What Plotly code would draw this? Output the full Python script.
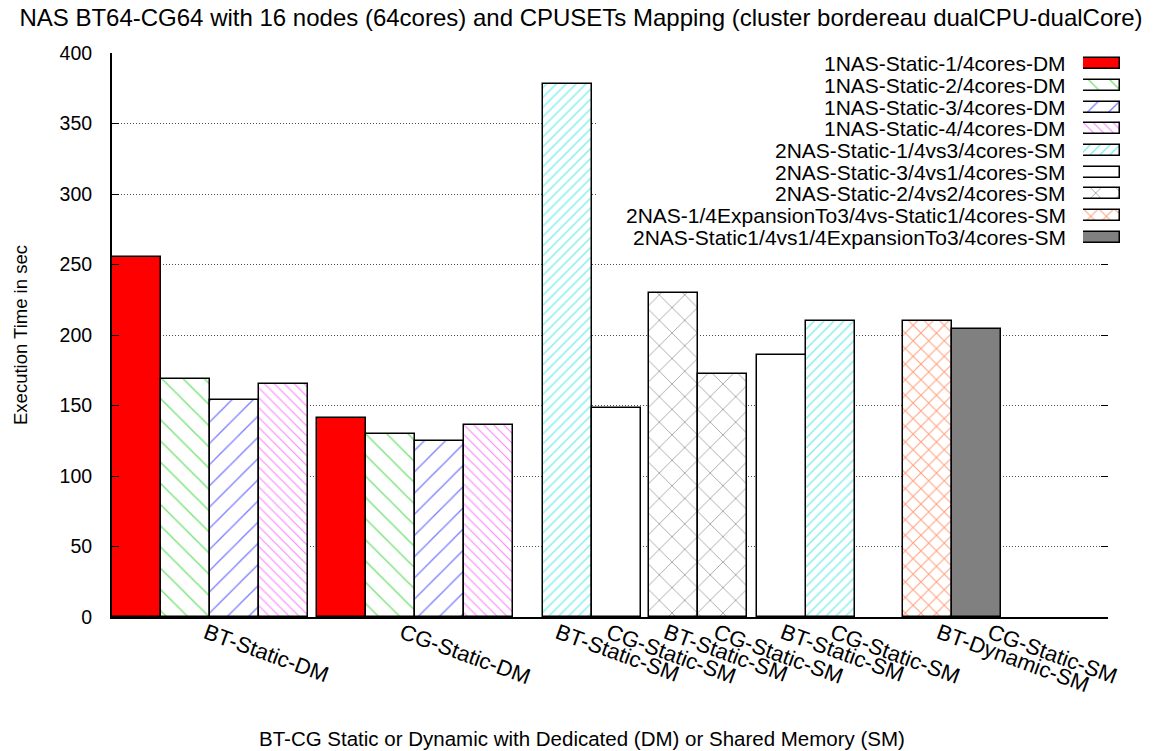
import plotly.graph_objects as go

# ---- data -------------------------------------------------------------
series_names = [
    "1NAS-Static-1/4cores-DM",
    "1NAS-Static-2/4cores-DM",
    "1NAS-Static-3/4cores-DM",
    "1NAS-Static-4/4cores-DM",
    "2NAS-Static-1/4vs3/4cores-SM",
    "2NAS-Static-3/4vs1/4cores-SM",
    "2NAS-Static-2/4vs2/4cores-SM",
    "2NAS-1/4ExpansionTo3/4vs-Static1/4cores-SM",
    "2NAS-Static1/4vs1/4ExpansionTo3/4cores-SM",
]

# dedicated-memory runs: one cluster per benchmark, one bar per mapping
dm_labels = ["BT-Static-DM", "CG-Static-DM"]
static1_dm = [255, 141]
static2_dm = [169, 130]
static3_dm = [154, 125]
static4_dm = [165, 136]

# shared-memory runs: one bar per benchmark, tagged with its series
sm_labels = ["BT-Static-SM", "CG-Static-SM", "BT-Static-SM", "CG-Static-SM",
             "BT-Static-SM", "CG-Static-SM", "BT-Dynamic-SM", "CG-Static-SM"]
sm_series = [4, 5, 6, 6, 5, 4, 7, 8]
sm_values = [378, 148, 230, 172, 186, 210, 210, 204]

y_ticks = [0, 50, 100, 150, 200, 250, 300, 350, 400]

# ---- layout constants (x in bar-width units) -------------------------
BAR_W = 1.0
DM_CENTERS = [2.0, 6.18]
SM_BAR_X = [9.30, 10.30, 11.46, 12.46, 13.66, 14.66, 16.64, 17.64]
DM_TICK_X = [1.92, 5.92]
SM_TICK_X = [9.10, 10.14, 11.31, 12.33, 13.69, 14.71, 16.88, 17.92]
X_MAX = 20.33

FONT = "Liberation Sans"

styles = [
    dict(color="#ff0000"),
    dict(color="white", pattern=dict(shape="\\", fgcolor="#00cc00", size=15, solidity=0.10)),
    dict(color="white", pattern=dict(shape="/", fgcolor="#0000ff", size=15, solidity=0.09)),
    dict(color="white", pattern=dict(shape="\\", fgcolor="#ff00ff", size=7, solidity=0.15)),
    dict(color="white", pattern=dict(shape="/", fgcolor="#00dddd", size=7, solidity=0.20)),
    dict(color="white"),
    dict(color="white", pattern=dict(shape="x", fgcolor="#000000", size=18, solidity=0.07)),
    dict(color="white", pattern=dict(shape="x", fgcolor="#ff4400", size=11, solidity=0.18)),
    dict(color="#808080"),
]
OUTLINE = dict(color="black", width=1.5)

fig = go.Figure()

dm_cols = [static1_dm, static2_dm, static3_dm, static4_dm]
n_dm = len(dm_cols)
for s, vals in enumerate(dm_cols):
    xs = [c + (s - (n_dm - 1) / 2) * BAR_W for c in DM_CENTERS]
    fig.add_trace(go.Bar(
        x=xs, y=vals, width=BAR_W, name=series_names[s], showlegend=False,
        marker=dict(**styles[s], line=OUTLINE), hovertext=dm_labels,
        xaxis="x", yaxis="y"))

for s in sorted(set(sm_series)):
    idx = [i for i, k in enumerate(sm_series) if k == s]
    fig.add_trace(go.Bar(
        x=[SM_BAR_X[i] for i in idx], y=[sm_values[i] for i in idx],
        width=BAR_W, name=series_names[s], showlegend=False,
        marker=dict(**styles[s], line=OUTLINE),
        hovertext=[sm_labels[i] for i in idx], xaxis="x", yaxis="y"))

# key samples drawn as short horizontal bars in their own small axes
for s, name in enumerate(series_names):
    fig.add_trace(go.Bar(
        x=[1], y=[s], base=0, orientation="h", width=0.5, showlegend=False,
        marker=dict(**styles[s], line=OUTLINE), name=name, hoverinfo="name",
        xaxis="x3", yaxis="y3"))

L, R, T, B = 112, 25, 53, 134
W, H = 1155, 751
pw = W - L - R
ph = H - T - B


def px_x(p):
    return (p - L) / pw


def px_y(p):
    return (H - B - p) / ph


annotations = []
for s, name in enumerate(series_names):
    annotations.append(dict(
        text=name, x=px_x(1068), xref="paper", y=s, yref="y3",
        xanchor="right", yanchor="middle", showarrow=False,
        font=dict(family=FONT, size=21, color="black")))

annotations.append(dict(
    text="Execution Time in sec", x=px_x(20), xref="paper", y=0.5, yref="paper",
    textangle=-90, showarrow=False, xanchor="center", yanchor="middle",
    font=dict(family=FONT, size=18.5, color="black")))
annotations.append(dict(
    text="BT-CG Static or Dynamic with Dedicated (DM) or Shared Memory (SM)",
    x=px_x(582), xref="paper", y=px_y(738), yref="paper", showarrow=False,
    xanchor="center", yanchor="middle",
    font=dict(family=FONT, size=20.5, color="black")))

fig.update_layout(
    width=W, height=H,
    margin=dict(l=L, r=R, t=T, b=B),
    paper_bgcolor="white", plot_bgcolor="white",
    barmode="overlay", bargap=0,
    title=dict(
        text="NAS BT64-CG64 with 16 nodes (64cores) and CPUSETs Mapping "
             "(cluster bordereau dualCPU-dualCore)",
        x=581 / W, xref="container", xanchor="center",
        y=1 - 18 / H, yref="container", yanchor="middle",
        font=dict(family=FONT, size=24, color="black")),
    xaxis=dict(
        domain=[0, (1108 - L) / pw], range=[0, X_MAX],
        tickvals=DM_TICK_X + SM_TICK_X, ticktext=dm_labels + sm_labels,
        tickangle=20, ticks="", showgrid=False, zeroline=False,
        showline=True, linecolor="black", linewidth=2,
        ticklabelstandoff=-7,
        tickfont=dict(family=FONT, size=22, color="black")),
    yaxis=dict(
        range=[0, 400], tickvals=y_ticks, ticks="inside", ticklen=7,
        tickcolor="black", tickwidth=1, showline=True, linecolor="black",
        linewidth=2, showgrid=True, gridcolor="#505050", griddash="1px,2px",
        gridwidth=1, zeroline=False, ticklabelstandoff=14,
        tickfont=dict(family=FONT, size=19.5, color="black")),
    yaxis2=dict(
        range=[0, 400], tickvals=y_ticks, overlaying="y", side="right",
        anchor="x", ticks="inside", ticklen=7, tickcolor="black",
        showticklabels=False, showgrid=False, zeroline=False, showline=False),
    xaxis3=dict(domain=[px_x(1083), px_x(1120)], range=[0, 1],
                visible=False, fixedrange=True),
    yaxis3=dict(domain=[px_y(248), 1.0], range=[8.5, -0.5],
                visible=False, anchor="x3", fixedrange=True),
    shapes=[dict(
        type="rect", xref="x", yref="y", x0=9.88, x1=X_MAX, y0=259, y1=397,
        fillcolor="white", line=dict(width=0), layer="between")],
    annotations=annotations,
    showlegend=False,
)

# an empty trace so the mirrored right-hand tick axis gets drawn
fig.add_trace(go.Scatter(x=[], y=[], xaxis="x", yaxis="y2", showlegend=False))

fig.write_html("out.html")
